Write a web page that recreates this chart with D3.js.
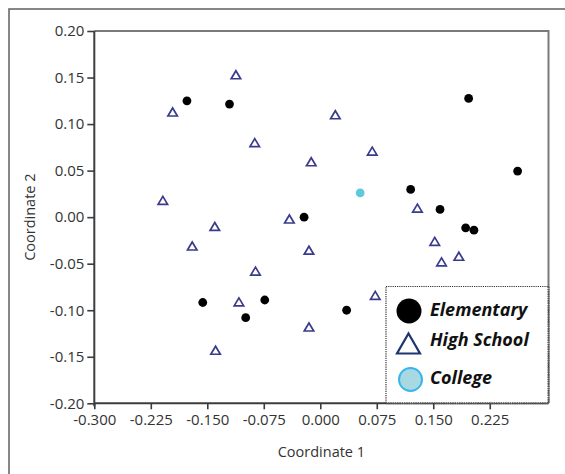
<!DOCTYPE html>
<html>
<head>
<meta charset="utf-8">
<script src="https://cdn.jsdelivr.net/npm/d3@7"></script>
<style>
  html, body { margin: 0; padding: 0; background: #fff; }
  svg { display: block; }
</style>
</head>
<body>
<svg id="chart" width="565" height="474"></svg>
<script>
// ---- data ----
const elementaryX = [-0.177, -0.1205, 0.197, 0.262, 0.120, 0.159, 0.193, 0.204, -0.0215, -0.156, -0.0737, -0.099, 0.035];
const elementaryY = [0.125, 0.1215, 0.1276, 0.0495, 0.0298, 0.0083, -0.0115, -0.014, 0.0, -0.0917, -0.089, -0.108, -0.100];
const highSchoolX = [-0.196, -0.112, -0.087, -0.209, -0.140, -0.041, 0.020, 0.069, -0.012, 0.129, 0.152, 0.161, 0.184, -0.170, -0.086, -0.108, -0.139, -0.015, 0.073, -0.015];
const highSchoolY = [0.113, 0.153, 0.080, 0.018, -0.010, -0.002, 0.110, 0.071, 0.0595, 0.0097, -0.026, -0.048, -0.042, -0.031, -0.058, -0.091, -0.143, -0.0355, -0.084, -0.118];
const collegeX = [0.053];
const collegeY = [0.026];
const xTicks = [-0.300, -0.225, -0.150, -0.075, 0.000, 0.075, 0.150, 0.225];
const yTicks = [-0.20, -0.15, -0.10, -0.05, 0.00, 0.05, 0.10, 0.15, 0.20];
const legendLabels = ["Elementary", "High School", "College"];
const xTitle = "Coordinate 1";
const yTitle = "Coordinate 2";

// ---- layout ----
const svg = d3.select("#chart");
const L = 94.3, R = 548.5, T = 31, B = 403.3;
const x = d3.scaleLinear().domain([-0.3, 0.303]).range([L, R]);
const y = d3.scaleLinear().domain([-0.2, 0.2]).range([B, T]);
const font = "'Open Sans', 'Noto Sans', sans-serif";

svg.append("rect").attr("width", 565).attr("height", 474).attr("fill", "#fff");
// outer frame
svg.append("rect").attr("x", 9).attr("y", 9).attr("width", 620).attr("height", 620)
  .attr("fill", "none").attr("stroke", "#6a6a6a").attr("stroke-width", 1.6);

// plot top & right border
svg.append("path")
  .attr("d", `M${L},${T}H${R}V${B}`)
  .attr("fill", "none").attr("stroke", "#7a7a7a").attr("stroke-width", 2);

// axes
const xAxis = d3.axisBottom(x).tickValues(xTicks).tickFormat(d3.format(".3f")).tickSize(6).tickSizeOuter(0).tickPadding(5);
const yAxis = d3.axisLeft(y).tickValues(yTicks).tickFormat(d3.format(".2f")).tickSize(7).tickSizeOuter(0).tickPadding(3);

const gx = svg.append("g").attr("transform", `translate(0,${B})`).call(xAxis);
const gy = svg.append("g").attr("transform", `translate(${L},0)`).call(yAxis);
[gx, gy].forEach(g => {
  g.select(".domain").attr("stroke", "#3c3c3c").attr("stroke-width", 2);
  g.selectAll(".tick line").attr("stroke", "#3c3c3c").attr("stroke-width", 1.6);
  g.selectAll(".tick text").attr("fill", "#333").attr("font-family", font).attr("font-size", 15)
    .text(function(d){ return d3.select(this).text().replace("\u2212", "-"); });
});
gx.select(".domain").attr("d", `M${L},0H${R}`);
gy.select(".domain").attr("d", `M0,${B + 3}V${T}`);

// axis titles
svg.append("text").attr("x", (L + R) / 2).attr("y", 457).attr("text-anchor", "middle")
  .attr("font-family", font).attr("font-size", 14.5).attr("fill", "#333").text(xTitle);
svg.append("text").attr("transform", `translate(35,${(T + B) / 2}) rotate(-90)`).attr("text-anchor", "middle")
  .attr("font-family", font).attr("font-size", 14.5).attr("fill", "#333").text(yTitle);

// marks
const triPath = (w, h) => `M0,${-h / 2}L${w / 2},${h / 2}L${-w / 2},${h / 2}Z`;
const hsColor = "#3a3a8e";

svg.append("g").selectAll("path").data(d3.range(highSchoolX.length)).join("path")
  .attr("transform", i => `translate(${x(highSchoolX[i])},${y(highSchoolY[i])})`)
  .attr("d", triPath(9.5, 8))
  .attr("fill", "#fff").attr("stroke", hsColor).attr("stroke-width", 1.7)
  .attr("stroke-linejoin", "miter");

svg.append("g").selectAll("circle").data(d3.range(elementaryX.length)).join("circle")
  .attr("cx", i => x(elementaryX[i])).attr("cy", i => y(elementaryY[i])).attr("r", 4.4)
  .attr("fill", "#000");

svg.append("g").selectAll("circle").data(d3.range(collegeX.length)).join("circle")
  .attr("cx", i => x(collegeX[i])).attr("cy", i => y(collegeY[i])).attr("r", 4.4)
  .attr("fill", "#5fc9dc");

// legend
const lg = svg.append("g");
lg.append("rect").attr("x", 386).attr("y", 286.5).attr("width", R - 386).attr("height", B - 286.5)
  .attr("fill", "#fff").attr("stroke", "#333").attr("stroke-width", 1.2).attr("stroke-dasharray", "1.2,1");
lg.append("path").attr("d", `M${R},286.5V${B}H386`).attr("fill", "none")
  .attr("stroke", "#555").attr("stroke-width", 2).attr("stroke-dasharray", "1.5,0.8");
lg.append("circle").attr("cx", 409).attr("cy", 311).attr("r", 12.5).attr("fill", "#000");
lg.append("path").attr("transform", "translate(408.5,343.5)").attr("d", triPath(23, 20))
  .attr("fill", "#fff").attr("stroke", "#1f3470").attr("stroke-width", 2.2);
lg.append("circle").attr("cx", 410.5).attr("cy", 379.5).attr("r", 11.5)
  .attr("fill", "#a8d9e3").attr("stroke", "#38b6ea").attr("stroke-width", 2);
const ly = [316, 346, 384];
lg.selectAll("text").data(legendLabels).join("text")
  .attr("x", 430).attr("y", (d, i) => ly[i])
  .attr("font-family", "'Open Sans', Lato, sans-serif").attr("font-weight", "bold").attr("font-style", "italic")
  .attr("font-size", 18).attr("fill", "#111").text(d => d);
</script>
</body>
</html>
